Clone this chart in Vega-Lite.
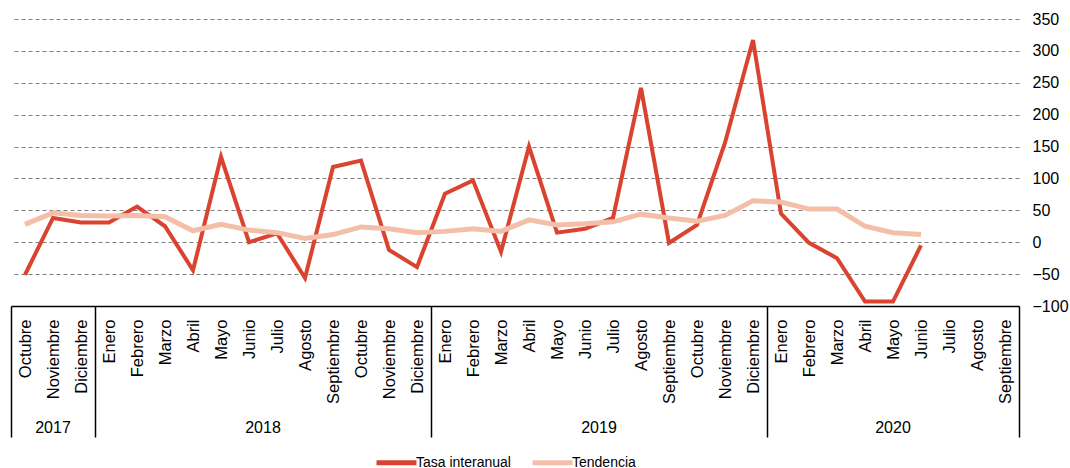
{
  "$schema": "https://vega.github.io/schema/vega-lite/v6.json",
  "width": 1008,
  "height": 287,
  "padding": {"left": 3, "top": 11, "right": 5, "bottom": 0},
  "config": {
    "view": {"stroke": null},
    "font": "Liberation Sans",
    "axis": {"labelFont": "Liberation Sans", "labelColor": "#000000", "title": null}
  },
  "data": {"values": [
    {"m": "2017-10|Octubre", "serie": "Tasa interanual", "v": -51},
    {"m": "2017-11|Noviembre", "serie": "Tasa interanual", "v": 38},
    {"m": "2017-12|Diciembre", "serie": "Tasa interanual", "v": 31},
    {"m": "2018-01|Enero", "serie": "Tasa interanual", "v": 31},
    {"m": "2018-02|Febrero", "serie": "Tasa interanual", "v": 56},
    {"m": "2018-03|Marzo", "serie": "Tasa interanual", "v": 25},
    {"m": "2018-04|Abril", "serie": "Tasa interanual", "v": -44},
    {"m": "2018-05|Mayo", "serie": "Tasa interanual", "v": 134},
    {"m": "2018-06|Junio", "serie": "Tasa interanual", "v": 0},
    {"m": "2018-07|Julio", "serie": "Tasa interanual", "v": 14},
    {"m": "2018-08|Agosto", "serie": "Tasa interanual", "v": -56},
    {"m": "2018-09|Septiembre", "serie": "Tasa interanual", "v": 118},
    {"m": "2018-10|Octubre", "serie": "Tasa interanual", "v": 128},
    {"m": "2018-11|Noviembre", "serie": "Tasa interanual", "v": -12},
    {"m": "2018-12|Diciembre", "serie": "Tasa interanual", "v": -39},
    {"m": "2019-01|Enero", "serie": "Tasa interanual", "v": 76},
    {"m": "2019-02|Febrero", "serie": "Tasa interanual", "v": 97},
    {"m": "2019-03|Marzo", "serie": "Tasa interanual", "v": -15},
    {"m": "2019-04|Abril", "serie": "Tasa interanual", "v": 150},
    {"m": "2019-05|Mayo", "serie": "Tasa interanual", "v": 15},
    {"m": "2019-06|Junio", "serie": "Tasa interanual", "v": 21},
    {"m": "2019-07|Julio", "serie": "Tasa interanual", "v": 38},
    {"m": "2019-08|Agosto", "serie": "Tasa interanual", "v": 242},
    {"m": "2019-09|Septiembre", "serie": "Tasa interanual", "v": -1},
    {"m": "2019-10|Octubre", "serie": "Tasa interanual", "v": 27},
    {"m": "2019-11|Noviembre", "serie": "Tasa interanual", "v": 156},
    {"m": "2019-12|Diciembre", "serie": "Tasa interanual", "v": 317},
    {"m": "2020-01|Enero", "serie": "Tasa interanual", "v": 45},
    {"m": "2020-02|Febrero", "serie": "Tasa interanual", "v": -1},
    {"m": "2020-03|Marzo", "serie": "Tasa interanual", "v": -25},
    {"m": "2020-04|Abril", "serie": "Tasa interanual", "v": -93},
    {"m": "2020-05|Mayo", "serie": "Tasa interanual", "v": -93},
    {"m": "2020-06|Junio", "serie": "Tasa interanual", "v": -5},
    {"m": "2017-10|Octubre", "serie": "Tendencia", "v": 28},
    {"m": "2017-11|Noviembre", "serie": "Tendencia", "v": 46},
    {"m": "2017-12|Diciembre", "serie": "Tendencia", "v": 42},
    {"m": "2018-01|Enero", "serie": "Tendencia", "v": 41},
    {"m": "2018-02|Febrero", "serie": "Tendencia", "v": 42},
    {"m": "2018-03|Marzo", "serie": "Tendencia", "v": 40},
    {"m": "2018-04|Abril", "serie": "Tendencia", "v": 18},
    {"m": "2018-05|Mayo", "serie": "Tendencia", "v": 28},
    {"m": "2018-06|Junio", "serie": "Tendencia", "v": 19},
    {"m": "2018-07|Julio", "serie": "Tendencia", "v": 15},
    {"m": "2018-08|Agosto", "serie": "Tendencia", "v": 6},
    {"m": "2018-09|Septiembre", "serie": "Tendencia", "v": 12},
    {"m": "2018-10|Octubre", "serie": "Tendencia", "v": 24},
    {"m": "2018-11|Noviembre", "serie": "Tendencia", "v": 21},
    {"m": "2018-12|Diciembre", "serie": "Tendencia", "v": 15},
    {"m": "2019-01|Enero", "serie": "Tendencia", "v": 17},
    {"m": "2019-02|Febrero", "serie": "Tendencia", "v": 21},
    {"m": "2019-03|Marzo", "serie": "Tendencia", "v": 17},
    {"m": "2019-04|Abril", "serie": "Tendencia", "v": 35},
    {"m": "2019-05|Mayo", "serie": "Tendencia", "v": 27},
    {"m": "2019-06|Junio", "serie": "Tendencia", "v": 29},
    {"m": "2019-07|Julio", "serie": "Tendencia", "v": 32},
    {"m": "2019-08|Agosto", "serie": "Tendencia", "v": 44},
    {"m": "2019-09|Septiembre", "serie": "Tendencia", "v": 38},
    {"m": "2019-10|Octubre", "serie": "Tendencia", "v": 33},
    {"m": "2019-11|Noviembre", "serie": "Tendencia", "v": 42},
    {"m": "2019-12|Diciembre", "serie": "Tendencia", "v": 65},
    {"m": "2020-01|Enero", "serie": "Tendencia", "v": 63},
    {"m": "2020-02|Febrero", "serie": "Tendencia", "v": 52},
    {"m": "2020-03|Marzo", "serie": "Tendencia", "v": 52},
    {"m": "2020-04|Abril", "serie": "Tendencia", "v": 25},
    {"m": "2020-05|Mayo", "serie": "Tendencia", "v": 15},
    {"m": "2020-06|Junio", "serie": "Tendencia", "v": 12}
  ]},
  "encoding": {
    "y": {
      "field": "v", "type": "quantitative",
      "scale": {"domain": [-100, 350], "nice": false, "zero": false},
      "axis": {
        "orient": "right", "values": [-100, -50, 0, 50, 100, 150, 200, 250, 300, 350],
        "grid": true, "gridDash": [4, 3], "gridColor": "#808080", "gridWidth": 1,
        "domain": false, "ticks": false, "labelPadding": 13, "labelFontSize": 16, "title": null
      }
    },
    "color": {
      "field": "serie", "type": "nominal",
      "scale": {"domain": ["Tasa interanual", "Tendencia"], "range": ["#d9432f", "#f4bfa8"]},
      "legend": {
        "orient": "none", "legendX": 363, "legendY": 421, "direction": "horizontal", "title": null,
        "symbolType": "stroke", "symbolSize": 1600, "symbolStrokeWidth": 5,
        "labelFontSize": 14, "labelOffset": -3, "columnPadding": 11, "labelColor": "#000000",
        "labelFont": "Liberation Sans", "padding": 0
      }
    }
  },
  "layer": [
    {
      "transform": [{"filter": "datum.serie == 'Tasa interanual'"}],
      "mark": {"type": "line", "strokeWidth": 4},
      "encoding": {
        "x": {
          "field": "m", "type": "ordinal", "bandPosition": 0.5,
          "scale": {"type": "band", "paddingInner": 0, "paddingOuter": 0, "domain": [
            "2017-10|Octubre", "2017-11|Noviembre", "2017-12|Diciembre",
            "2018-01|Enero", "2018-02|Febrero", "2018-03|Marzo", "2018-04|Abril", "2018-05|Mayo", "2018-06|Junio",
            "2018-07|Julio", "2018-08|Agosto", "2018-09|Septiembre", "2018-10|Octubre", "2018-11|Noviembre", "2018-12|Diciembre",
            "2019-01|Enero", "2019-02|Febrero", "2019-03|Marzo", "2019-04|Abril", "2019-05|Mayo", "2019-06|Junio",
            "2019-07|Julio", "2019-08|Agosto", "2019-09|Septiembre", "2019-10|Octubre", "2019-11|Noviembre", "2019-12|Diciembre",
            "2020-01|Enero", "2020-02|Febrero", "2020-03|Marzo", "2020-04|Abril", "2020-05|Mayo", "2020-06|Junio",
            "2020-07|Julio", "2020-08|Agosto", "2020-09|Septiembre"
          ]},
          "axis": {
            "orient": "bottom",
            "tickBand": "extent", "ticks": true, "tickSize": 131, "tickColor": "#000000", "tickWidth": 1.5,
            "tickOpacity": {"condition": {"test": "!datum.value || indexof(['2017-12|Diciembre','2018-12|Diciembre','2019-12|Diciembre','2020-09|Septiembre'], datum.value) >= 0", "value": 1}, "value": 0},
            "domain": true, "domainColor": "#000000", "domainWidth": 1.5,
            "labelAngle": -90, "labelPadding": -118, "labelFontSize": 16.5,
            "labelExpr": "split(datum.value, '|')[1]", "labelOverlap": false,
            "grid": false, "title": null
          }
        }
      }
    },
    {
      "transform": [{"filter": "datum.serie == 'Tendencia'"}],
      "mark": {"type": "line", "strokeWidth": 5},
      "encoding": {
        "x": {
          "field": "m", "type": "ordinal", "bandPosition": 0.5,
          "axis": {
            "orient": "bottom",
            "values": ["2017-11|Noviembre", "2018-07|Julio", "2019-07|Julio", "2020-05|Mayo"],
            "ticks": false, "tickSize": 0, "domain": false, "labelAngle": 0,
            "labelPadding": 113, "labelFontSize": 16,
            "labelExpr": "slice(datum.value, 0, 4)",
            "labelOffset": {"condition": {"test": "datum.value == '2018-07|Julio' || datum.value == '2019-07|Julio'", "value": -14}, "value": 0},
            "grid": false, "title": null
          }
        }
      }
    }
  ],
  "resolve": {"axis": {"x": "independent"}}
}
